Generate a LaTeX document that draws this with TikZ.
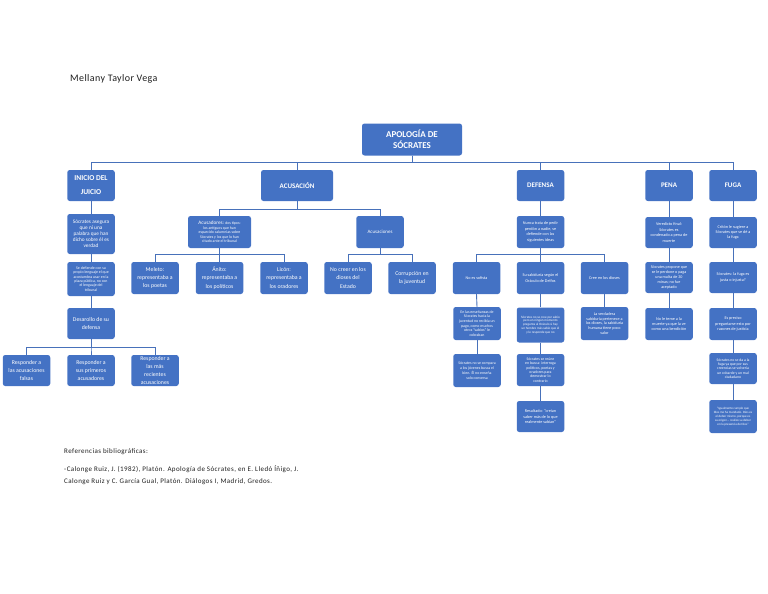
\documentclass[tikz,border=0pt]{standalone}
\usepackage{fontspec}
\setmainfont{Carlito}
\definecolor{boxblue}{RGB}{68,114,196}
\definecolor{lineblue}{RGB}{72,113,186}
\definecolor{inkdark}{RGB}{30,30,30}
\begin{document}
\begin{tikzpicture}[x=1pt,y=-1pt,
  box/.style={fill=boxblue, rounded corners=2.5pt, text=white, align=center,
    inner sep=0.5pt, minimum width=47.5pt, minimum height=31.5pt},
  ttl/.style={font=\bfseries\fontsize{9}{11}\selectfont},
  hdr/.style={font=\bfseries\fontsize{7}{10}\selectfont},
  hdrb/.style={font=\bfseries\fontsize{7.5}{14}\selectfont},
  med/.style={font=\fontsize{5.8}{8.2}\selectfont},
  mds/.style={font=\fontsize{5.3}{6.1}\selectfont},
  sml/.style={font=\fontsize{4.2}{5.4}\selectfont},
  tny/.style={font=\fontsize{3.9}{4.4}\selectfont},
  conn/.style={draw=lineblue, line width=0.9pt},
  plain/.style={text=inkdark, inner sep=0pt, anchor=west}]
\useasboundingbox (0,0) rectangle (768,594);

% author
\node[plain, font=\fontsize{10}{12}\selectfont\addfontfeature{LetterSpace=4}] (author) at (70,79) {Mellany Taylor Vega};

% root
\node[box, ttl, minimum width=100pt, minimum height=32pt] (root) at (412,139.5) {APOLOGÍA DE\\SÓCRATES};

% headers
\node[box, hdrb, minimum height=31pt] (inicio) at (91,185.5) {INICIO DEL\\JUICIO};
\node[box, hdr, minimum width=72pt, minimum height=31pt] (acus) at (297,185.5) {ACUSACIÓN};
\node[box, hdr, minimum height=31pt] (defensa) at (540.5,185.5) {DEFENSA};
\node[box, hdr, minimum height=31pt] (pena) at (669,185.5) {PENA};
\node[box, hdr, minimum height=31pt] (fuga) at (733,185.5) {FUGA};

\foreach \n in {inicio,acus,defensa,pena,fuga}
  \draw[conn] (root.south) -- ++(0,7) -| (\n.north);

% Inicio column
\node[box, mds, minimum height=40pt] (asegura) at (91,234) {Sócrates asegura\\que ni una\\palabra que han\\dicho sobre él es\\verdad};
\node[box, tny, minimum height=34pt] (lenguaje) at (91,279) {Se defiende con su\\propio lenguaje el que\\acostumbra usar en la\\plaza pública, no con\\el lenguaje del\\tribunal};
\node[box, med, minimum height=31pt] (desarrollo) at (91,323.5) {Desarollo de su\\defensa};
\node[box, med, minimum height=31pt] (respA) at (26.5,370.5) {Responder a\\las acusaciones\\falsas};
\node[box, med, minimum height=31pt] (respB) at (91,370.5) {Responder a\\sus primeros\\acusadores};
\node[box, med, minimum height=31pt] (respC) at (155,370.5) {Responder a\\las más\\recientes\\acusaciones};

\draw[conn] (inicio.south) -- (asegura.north);
\draw[conn] (asegura.south) -- (lenguaje.north);
\draw[conn] (lenguaje.south) -- (desarrollo.north);
\foreach \n in {respA,respB,respC}
  \draw[conn] (desarrollo.south) -- ++(0,8.5) -| (\n.north);

% Acusacion
\node[box, minimum width=63pt, minimum height=32pt, font=\fontsize{3.9}{4.5}\selectfont] (acusadores) at (219.5,232) {{\fontsize{5.2}{4.5}\selectfont Acusadores:} dos tipos:\\los antiguos que han\\esparcido calumnias sobre\\Sócrates y los que lo han\\citado ante el tribunal};
\node[box, font=\fontsize{5}{6}\selectfont, minimum height=32pt] (acusaciones) at (380,232) {Acusaciones};
\node[box, med, minimum height=32pt] (meleto) at (155,278) {Meleto:\\representaba a\\los poetas};
\node[box, med, minimum height=32pt] (anito) at (219.5,278) {Ánito:\\representaba a\\los políticos};
\node[box, med, minimum height=32pt] (licon) at (284,278) {Licón:\\representaba a\\los oradores};
\node[box, med, minimum height=32pt] (nocreer) at (348,278) {No creer en los\\dioses del\\Estado};
\node[box, med, minimum height=32pt] (corrup) at (412,278) {Corrupción en\\la juventud};

\foreach \n in {acusadores,acusaciones}
  \draw[conn] (acus.south) -- ++(0,8) -| (\n.north);
\foreach \n in {meleto,anito,licon}
  \draw[conn] (acusadores.south) -- ++(0,6) -| (\n.north);
\foreach \n in {nocreer,corrup}
  \draw[conn] (acusaciones.south) -- ++(0,6) -| (\n.north);

% Defensa
\node[box, sml, minimum height=32pt] (nunca) at (540.5,232) {Nunca trata de pedir\\perdón a nadie, se\\defiende con las\\siguientes ideas};
\node[box, sml, minimum height=32pt] (sofista) at (476.5,278) {No es sofista};
\node[box, sml, minimum height=32pt] (sabid) at (540.5,278) {Su sabiduría según el\\Oráculo de Delfos};
\node[box, sml, minimum height=32pt] (cree) at (604.5,278) {Cree en los dioses};
\node[box, font=\fontsize{3.9}{4.7}\selectfont, minimum height=33pt] (ensen) at (477,323.5) {En las enseñanzas de\\Sócrates hacia la\\juventud no recibía un\\pago, como muchos\\otros ``sabios'' le\\cobraban};
\node[box, font=\fontsize{3.3}{3.9}\selectfont, minimum height=35pt] (noda) at (540.5,325) {Sócrates no se cree por sabio\\pero en ningún momento\\pregunta al Oráculo si hay\\un hombre más sabio que él\\y le responde que no};
\node[box, font=\fontsize{4.1}{4.8}\selectfont, minimum height=33pt] (verdad) at (604.5,323.5) {La verdadera\\sabiduría pertenece a\\los dioses, la sabiduría\\humana tiene poco\\valor};
\node[box, font=\fontsize{3.9}{4.8}\selectfont, minimum height=33pt] (compara) at (477,370.5) {Sócrates no se compara\\a los jóvenes busca el\\bien. Él no enseña\\solo conversa};
\node[box, font=\fontsize{3.9}{4.4}\selectfont, minimum height=32pt] (reune) at (540.5,370) {Sócrates se reúne\\en busca: interroga\\políticos, poetas y\\oradores para\\demostrar lo\\contrario};
\node[box, sml, minimum height=31pt] (resultado) at (540.5,416.5) {Resultado: ``creían\\saber más de lo que\\realmente sabían''};

\draw[conn] (defensa.south) -- (nunca.north);
\foreach \n in {sofista,sabid,cree}
  \draw[conn] (nunca.south) -- ++(0,6) -| (\n.north);
\draw[conn] (sofista.south) -- (ensen.north);
\draw[conn] (ensen.south) -- (compara.north);
\draw[conn] (sabid.south) -- (noda.north);
\draw[conn] (noda.south) -- (reune.north);
\draw[conn] (reune.south) -- (resultado.north);
\draw[conn] (cree.south) -- (verdad.north);

% Pena
\node[box, sml, minimum height=31pt] (veredicto) at (669,232.5) {Veredicto final:\\Sócrates es\\condenado a pena de\\muerte};
\node[box, font=\fontsize{4.1}{4.8}\selectfont, minimum height=31pt] (propone) at (669,277.5) {Sócrates propone que\\se le perdone o paga\\una multa de 30\\minas; no fue\\aceptado};
\node[box, sml, minimum height=32pt] (teme) at (669,324) {No le teme a la\\muerte ya que la ve\\como una bendición};
\draw[conn] (pena.south) -- (veredicto.north);
\draw[conn] (veredicto.south) -- (propone.north);
\draw[conn] (propone.south) -- (teme.north);

% Fuga
\node[box, sml, minimum height=31pt] (criton) at (733,232.5) {Critón le sugiere a\\Sócrates que se dé a\\la fuga};
\node[box, sml, minimum height=31pt] (fugaes) at (733,277.5) {Sócrates: la fuga es\\justa o injusta?};
\node[box, sml, minimum height=32pt] (preciso) at (733,324) {Es preciso\\preguntarse esto por\\razones de justicia};
\node[box, font=\fontsize{3.8}{4.2}\selectfont, minimum height=31pt] (noseda) at (733,368.5) {Sócrates no se da a la\\fuga ya que por sus\\creencias se volvería\\un cobarde y un mal\\ciudadano};
\node[box, font=\fontsize{3.2}{4}\selectfont, minimum height=33pt] (quote) at (733,416.5) {``Igualmente cumplo que\\Dios me ha mandado. Dios es\\el deber mismo, porque es\\su origen... realizo su deber\\en la presencia de Dios''};
\draw[conn] (fuga.south) -- (criton.north);
\draw[conn] (criton.south) -- (fugaes.north);
\draw[conn] (fugaes.south) -- (preciso.north);
\draw[conn] (preciso.south) -- (noseda.north);
\draw[conn] (noseda.south) -- (quote.north);

% references
\node[plain, font=\fontsize{7}{8}\selectfont\addfontfeature{LetterSpace=6}] (refhead) at (64,452) {Referencias bibliográficas:};
\node[plain, anchor=north west, align=left, font=\fontsize{7}{12}\selectfont\addfontfeature{LetterSpace=6}] (refs) at (64,465) {-Calonge Ruiz, J. (1982), Platón. Apología de Sócrates, en E. Lledó Íñigo, J.\\Calonge Ruiz y C. García Gual, Platón. Diálogos I, Madrid, Gredos.};
\end{tikzpicture}
\end{document}
